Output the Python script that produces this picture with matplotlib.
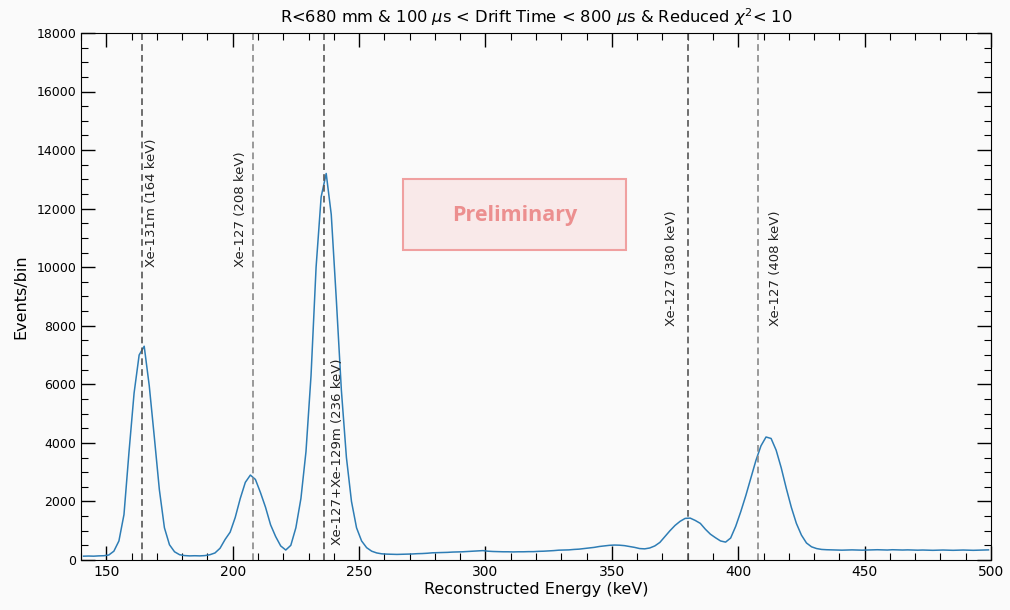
import numpy as np
import matplotlib
matplotlib.use("Agg")
import matplotlib.pyplot as plt
from matplotlib.patches import Rectangle
from matplotlib.ticker import MultipleLocator

# Spectrum sampled in 2 keV bins from 140 to 500 keV
bin_edges = np.arange(140, 502, 2)
counts = [
    # 140-180
    130, 135, 130, 140, 145, 170, 300, 650, 1550, 3700,
    5700, 7000, 7300, 5950, 4200, 2400, 1100, 520, 280, 180,
    # 180-220
    150, 140, 145, 140, 150, 180, 240, 400, 700, 950,
    1450, 2100, 2650, 2900, 2750, 2300, 1800, 1200, 800, 480,
    # 220-260
    340, 500, 1100, 2100, 3700, 6300, 10000, 12400, 13200, 11800,
    8900, 5800, 3500, 2000, 1100, 650, 420, 300, 240, 210,
    # 260-300
    200, 195, 190, 195, 200, 205, 215, 220, 230, 245,
    250, 255, 260, 270, 275, 280, 290, 300, 310, 320,
    # 300-340
    300, 290, 285, 280, 280, 275, 280, 280, 285, 285,
    295, 300, 310, 320, 335, 340, 345, 360, 370, 390,
    # 340-380
    410, 430, 460, 480, 500, 510, 505, 490, 460, 430,
    390, 380, 410, 480, 600, 800, 1000, 1180, 1320, 1420,
    # 380-420
    1430, 1350, 1250, 1050, 880, 760, 650, 610, 750, 1150,
    1650, 2200, 2800, 3400, 3900, 4200, 4150, 3750, 3150, 2450,
    # 420-460
    1800, 1250, 850, 580, 450, 390, 360, 350, 345, 340,
    335, 340, 345, 340, 335, 340, 345, 350, 345, 340,
    # 460-500
    350, 345, 340, 345, 340, 335, 340, 335, 330, 335,
    340, 335, 330, 335, 340, 335, 330, 335, 340, 345,
]

# Gamma lines with labels
line_energies = [164, 208, 236, 380, 408]
line_labels = ["Xe-131m (164 keV)", "Xe-127 (208 keV)",
               "Xe-127+Xe-129m (236 keV)", "Xe-127 (380 keV)",
               "Xe-127 (408 keV)"]

bg = "#fafafa"
fig = plt.figure(figsize=(10.1, 6.1), dpi=100, facecolor=bg)
ax = fig.add_axes([0.0802, 0.082, 0.901, 0.864])
ax.set_facecolor(bg)

centers = 0.5 * (bin_edges[:-1] + bin_edges[1:])
ax.plot(centers, counts, color="#2e7db5", linewidth=1.1)

line_styles = [
    dict(color="#555555", dx=1.4, ha="left", y=10000),
    dict(color="#888888", dx=-2.4, ha="right", y=10000),
    dict(color="#555555", dx=2.8, ha="left", y=500),
    dict(color="#555555", dx=-4.0, ha="right", y=8000),
    dict(color="#888888", dx=4.3, ha="left", y=8000),
]
for e, lab, st in zip(line_energies, line_labels, line_styles):
    ax.axvline(e, color=st["color"], linestyle=(0, (4, 2.5)), linewidth=1.2)
    ax.text(e + st["dx"], st["y"], lab, rotation=90, ha=st["ha"],
            va="bottom", fontsize=9.5, color="#222222")

# Watermark box
ax.add_patch(Rectangle((267.5, 10600), 88.2, 2400, facecolor="#f9e9e9",
                       edgecolor="#f0a0a0", linewidth=1.5, zorder=3))
ax.text(311.6, 11750, "Preliminary", ha="center", va="center",
        fontsize=15.5, fontweight="bold", color="#ec8f8f",
        family="Open Sans", zorder=4)

ax.set_xlim(140, 500)
ax.set_ylim(0, 18000)
ax.xaxis.set_major_locator(MultipleLocator(50))
ax.xaxis.set_minor_locator(MultipleLocator(10))
ax.yaxis.set_major_locator(MultipleLocator(2000))
ax.yaxis.set_minor_locator(MultipleLocator(500))
ax.tick_params(which="both", direction="in", top=True, right=True)
ax.tick_params(which="major", length=10, width=1)
ax.tick_params(which="minor", length=5, width=0.8)
ax.tick_params(axis="x", labelsize=10)
ax.tick_params(axis="y", labelsize=9)

ax.set_xlabel("Reconstructed Energy (keV)", fontsize=11.5, labelpad=2)
ax.set_ylabel("Events/bin", fontsize=11.5, labelpad=6)
ax.set_title(r"R<680 mm & 100 $\mu$s < Drift Time < 800 $\mu$s & Reduced $\chi^2$< 10",
             fontsize=11.7, pad=7)

fig.savefig("out.png", dpi=100, facecolor=bg)
